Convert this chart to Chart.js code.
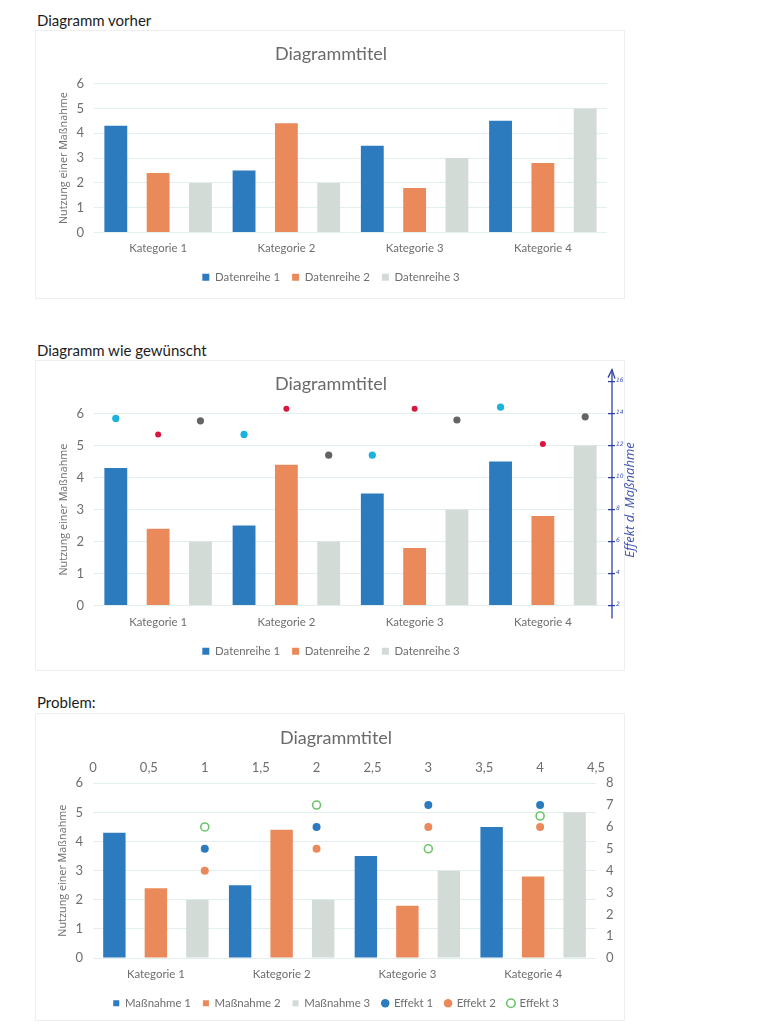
<!DOCTYPE html>
<html>
<head>
<meta charset="utf-8">
<script src="https://cdn.jsdelivr.net/npm/chart.js@4.4.1/dist/chart.umd.min.js"></script>
<style>
    body { margin: 0; background: #fff; width: 761px; height: 1024px; position: relative; overflow: hidden; }
    .head { position: absolute; left: 37px; font: 15px Lato, sans-serif; color: #1c1c1c; }
    .box { position: absolute; border: 1px solid #eeeeee; box-sizing: border-box; }
    .wrap { position: absolute; }
</style>
</head>
<body>
<div class="head" style="top:11px">Diagramm vorher</div>
<div class="box" style="left:35px;top:30px;width:590px;height:269px"></div>
<div class="wrap" style="left:35px;top:30px;width:589px;height:268px"><canvas id="chartVorher"></canvas></div>

<div class="head" style="top:341px">Diagramm wie gewünscht</div>
<div class="box" style="left:35px;top:360px;width:590px;height:311px"></div>
<div class="wrap" style="left:35px;top:360px;width:640px;height:310px"><canvas id="chartGewuenscht"></canvas></div>

<div class="head" style="top:693px">Problem:</div>
<div class="box" style="left:35px;top:713px;width:590px;height:308px"></div>
<div class="wrap" style="left:35px;top:713px;width:589px;height:307px"><canvas id="chartProblem"></canvas></div>

<script>
var categories = ['Kategorie 1', 'Kategorie 2', 'Kategorie 3', 'Kategorie 4'];
var reihe1 = [4.3, 2.5, 3.5, 4.5];
var reihe2 = [2.4, 4.4, 1.8, 2.8];
var reihe3 = [2, 2, 3, 5];
var namesVorher = ['Datenreihe 1', 'Datenreihe 2', 'Datenreihe 3'];
var namesProblem = ['Maßnahme 1', 'Maßnahme 2', 'Maßnahme 3'];

// handgemalte Punkte (rechte, handgezeichnete Achse 2..16)
var handPunkte1 = [13.7, 12.7, 11.4, 14.4];
var handPunkte2 = [12.7, 14.3, 14.3, 12.1];
var handPunkte3 = [13.55, 11.4, 13.6, 13.8];
var handTicks = [2, 4, 6, 8, 10, 12, 14, 16];

// Problem-Diagramm: Effekte auf Sekundärachsen
var effektX = [1, 2, 3, 4];
var effekt1 = [5, 6, 7, 7];
var effekt2 = [4, 5, 6, 6];
var effekt3 = [6, 7, 5, 6.5];
var effektNames = ['Effekt 1', 'Effekt 2', 'Effekt 3'];

var barColors = ['#2c7bbf', '#ea8a5b', '#d3dbd6'];
var handColors = ['#1cb2e0', '#d8173f', '#646464'];
var handRadius = [3.6, 3, 3.6];
var effektColors = ['#2c7bbf', '#ea8a5b', '#ffffff'];
var effektBorders = ['#2c7bbf', '#ea8a5b', '#6cc46a'];
var textColor = '#6e6e6e';
var gridColor = '#e3eeee';
var catPct = 0.99, barPct = 0.54;

function barSets(names) {
    return [reihe1, reihe2, reihe3].map(function (vals, i) {
        return {
            type: 'bar', label: names[i], data: vals, xAxisID: 'x', yAxisID: 'y',
            backgroundColor: barColors[i], borderWidth: 0,
            categoryPercentage: catPct, barPercentage: barPct,
            pointStyle: 'rect'
        };
    });
}

function leftAxis(axisWidth) {
    return {
        position: 'left', min: 0, max: 6,
        ticks: { stepSize: 1, color: textColor, padding: 10, font: { family: 'Lato', size: 13 } },
        grid: { color: gridColor, drawTicks: false },
        border: { display: false },
        title: {
            display: true, text: 'Nutzung einer Maßnahme', color: textColor,
            font: { family: 'Open Sans', size: 10.8 }, padding: { top: 2, bottom: 0 }
        },
        afterFit: function (s) { s.width = axisWidth; }
    };
}

function catAxis(pad, height) {
    return {
        ticks: { color: textColor, padding: pad, font: { family: 'Lato', size: 11.4, lineHeight: 1 } },
        grid: { display: false, drawTicks: false },
        border: { display: false },
        afterFit: function (s) { s.height = height; }
    };
}

function titleOpts(top, bottom) {
    return {
        display: true, text: 'Diagrammtitel', color: '#6a6a6a',
        font: { family: 'Lato', size: 18, weight: 'normal' },
        padding: { top: top, bottom: bottom }
    };
}

function legendOpts(pad, pointStyle) {
    return {
        position: 'bottom',
        labels: {
            color: textColor, font: { family: 'Lato', size: 11.4 },
            boxWidth: pointStyle ? 6 : 7, boxHeight: pointStyle ? 6 : 7,
            padding: pad, usePointStyle: !!pointStyle
        }
    };
}

// 1) Diagramm vorher
new Chart(document.getElementById('chartVorher'), {
    type: 'bar',
    data: { labels: categories, datasets: barSets(namesVorher) },
    options: {
        responsive: true, maintainAspectRatio: false, animation: false,
        layout: { padding: { left: 20, right: 17, top: 0, bottom: 5 } },
        plugins: {
            title: titleOpts(13, 19),
            legend: legendOpts(12, false),
            tooltip: { enabled: false }
        },
        scales: { x: catAxis(10.3, 27), y: leftAxis(39) }
    }
});

// 2) Diagramm wie gewünscht: handgezeichnete Achse + Punkte über den Balken
var handAxisPlugin = {
    id: 'handAxis',
    afterDatasetsDraw: function (chart) {
        var s = chart.scales.y2;
        var ctx = chart.ctx;
        ctx.save();
        [handPunkte1, handPunkte2, handPunkte3].forEach(function (vals, k) {
            var bars = chart.getDatasetMeta(k).data;
            vals.forEach(function (v, i) {
                ctx.beginPath();
                ctx.arc(bars[i].x, s.getPixelForValue(v), handRadius[k], 0, Math.PI * 2);
                ctx.fillStyle = handColors[k];
                ctx.fill();
            });
        });
        ctx.restore();
    },
    afterDraw: function (chart) {
        var s = chart.scales.y2;
        var ctx = chart.ctx;
        var x = chart.chartArea.right + 5;
        var yBottom = s.getPixelForValue(handTicks[0]) + 13;
        var yTop = s.getPixelForValue(handTicks[handTicks.length - 1]) - 12;
        ctx.save();
        ctx.strokeStyle = '#2f41a0';
        ctx.fillStyle = '#4155ad';
        ctx.lineWidth = 1.3;
        ctx.beginPath();
        ctx.moveTo(x, yBottom);
        ctx.lineTo(x, yTop);
        ctx.stroke();
        ctx.beginPath();
        ctx.moveTo(x - 4, yTop + 8);
        ctx.lineTo(x, yTop);
        ctx.lineTo(x + 3, yTop + 9);
        ctx.stroke();
        ctx.font = 'italic 6px "DejaVu Sans"';
        ctx.textAlign = 'left';
        ctx.textBaseline = 'middle';
        handTicks.forEach(function (v) {
            var y = s.getPixelForValue(v);
            ctx.beginPath();
            ctx.moveTo(x - 4, y);
            ctx.lineTo(x + 3, y);
            ctx.stroke();
            ctx.fillText(String(v), x + 4, y - 1);
        });
        ctx.save();
        ctx.translate(x + 18, s.getPixelForValue(8.6));
        ctx.rotate(-Math.PI / 2);
        ctx.textAlign = 'center';
        ctx.font = 'italic 13px "Open Sans"';
        ctx.fillText('Effekt d. Maßnahme', 0, 0);
        ctx.restore();
        ctx.restore();
    }
};

new Chart(document.getElementById('chartGewuenscht'), {
    type: 'bar',
    data: { labels: categories, datasets: barSets(namesVorher) },
    plugins: [handAxisPlugin],
    options: {
        responsive: true, maintainAspectRatio: false, animation: false,
        layout: { padding: { left: 20, right: 68, top: 0, bottom: 3 } },
        plugins: {
            title: titleOpts(13, 19),
            legend: legendOpts(12, false),
            tooltip: { enabled: false }
        },
        scales: {
            x: catAxis(11.3, 28),
            y: leftAxis(39),
            y2: { type: 'linear', display: false, position: 'right', min: 2, max: 14 }
        }
    }
});

// 3) Problem: Effekt-Punkte über Sekundärachsen (oben / rechts)
var effektPlugin = {
    id: 'effektPunkte',
    afterDatasetsDraw: function (chart) {
        var sx = chart.scales.xt, sy = chart.scales.yr, ctx = chart.ctx;
        ctx.save();
        [effekt1, effekt2, effekt3].forEach(function (vals, s) {
            vals.forEach(function (v, i) {
                ctx.beginPath();
                ctx.arc(sx.getPixelForValue(effektX[i]), sy.getPixelForValue(v), 4, 0, Math.PI * 2);
                ctx.fillStyle = effektColors[s];
                ctx.fill();
                if (s === 2) {
                    ctx.lineWidth = 1.6;
                    ctx.strokeStyle = effektBorders[s];
                    ctx.stroke();
                }
            });
        });
        ctx.restore();
    }
};

var legendProblem = legendOpts(12, true);
legendProblem.labels.generateLabels = function (chart) {
    var items = Chart.defaults.plugins.legend.labels.generateLabels(chart);
    effektNames.forEach(function (n, s) {
        items.push({
            text: n, fillStyle: effektColors[s], strokeStyle: effektBorders[s],
            lineWidth: s === 2 ? 1.6 : 0, pointStyle: 'circle', hidden: false,
            fontColor: textColor, datasetIndex: 3 + s
        });
    });
    return items;
};

new Chart(document.getElementById('chartProblem'), {
    type: 'bar',
    data: { labels: categories, datasets: barSets(namesProblem) },
    plugins: [effektPlugin],
    options: {
        responsive: true, maintainAspectRatio: false, animation: false,
        layout: { padding: { left: 19, right: 6, top: 0, bottom: 1 } },
        plugins: {
            title: titleOpts(14, 3),
            legend: legendProblem,
            tooltip: { enabled: false }
        },
        scales: {
            x: catAxis(10.1, 27.5),
            y: leftAxis(39),
            xt: {
                type: 'linear', position: 'top', offset: false, min: 0, max: 4.5,
                ticks: {
                    stepSize: 0.5, color: textColor, padding: 8, maxRotation: 0, autoSkip: false,
                    font: { family: 'Lato', size: 13 },
                    callback: function (v) { return String(v).replace('.', ','); }
                },
                grid: { display: false, drawTicks: false },
                border: { display: false }
            },
            yr: {
                type: 'linear', position: 'right', min: 0, max: 8,
                ticks: { stepSize: 1, color: textColor, padding: 10, font: { family: 'Lato', size: 13 } },
                grid: { display: false, drawTicks: false },
                border: { display: false },
                afterFit: function (s) { s.width = 22; }
            }
        }
    }
});
</script>
</body>
</html>
